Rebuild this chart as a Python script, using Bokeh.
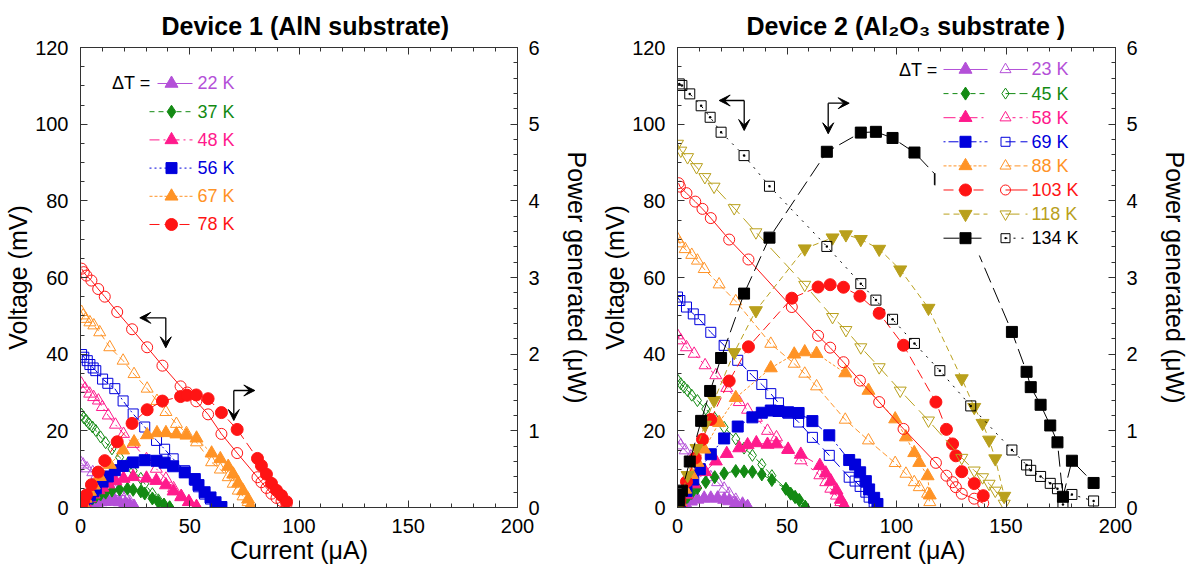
from bokeh.plotting import figure
from bokeh.models import Range1d, LinearAxis, SingleIntervalTicker, Arrow, VeeHead
from bokeh.layouts import row
from bokeh.embed import file_html
from bokeh.resources import INLINE
from bokeh.core.properties import value

FONT = "Liberation Sans"

# ---------------- Device 1 (AlN substrate) ----------------
temps1 = ["22 K", "37 K", "48 K", "56 K", "67 K", "78 K"]

I1_22 = [0.0, 1.2, 3.0, 5.6, 7.5, 9.2, 11.0, 12.7, 14.5, 16.0, 18.0, 20.5, 22.5, 24.5]
V1_22 = [11.8, 11.2, 10.2, 9.2, 8.5, 7.8, 7.0, 6.4, 5.6, 5.0, 4.0, 2.7, 1.5, 0.4]
P1_22 = [0.000, 0.013, 0.031, 0.052, 0.064, 0.072, 0.077, 0.081, 0.081, 0.080, 0.072, 0.055, 0.034, 0.010]

I1_37 = [0.5, 1.5, 2.7, 4.0, 5.5, 7.0, 9.2, 11.5, 14.4, 17.9, 21.5, 24.1, 27.6, 29.4, 32.9, 35.6, 38.2, 40.8]
V1_37 = [24.3, 23.4, 22.7, 21.8, 21.0, 20.1, 18.4, 16.9, 15.3, 13.1, 11.4, 9.6, 7.6, 6.2, 3.6, 2.0, 0.9, 0.1]
P1_37 = [0.012, 0.035, 0.061, 0.087, 0.116, 0.141, 0.169, 0.194, 0.220, 0.234, 0.245, 0.231, 0.210, 0.182, 0.118, 0.071, 0.034, 0.004]

I1_48 = [0.4, 2.1, 4.2, 6.0, 8.2, 10.0, 12.7, 16.0, 19.7, 24.1, 30.2, 34.7, 39.1, 42.6, 46.1, 49.6, 53.1]
V1_48 = [32.3, 31.0, 29.7, 28.8, 27.9, 26.2, 24.0, 21.6, 19.2, 16.6, 12.6, 10.1, 7.5, 5.0, 3.0, 1.5, 0.2]
P1_48 = [0.013, 0.065, 0.125, 0.173, 0.229, 0.262, 0.305, 0.346, 0.378, 0.400, 0.381, 0.350, 0.293, 0.213, 0.138, 0.074, 0.011]

I1_56 = [0.5, 1.5, 3.1, 4.3, 5.8, 7.0, 10.1, 12.5, 15.7, 19.5, 24.1, 29.4, 34.8, 38.5, 42.4, 47.7, 52.3, 54.0, 56.8, 59.5, 61.8, 64.5]
V1_56 = [39.9, 39.2, 38.3, 37.3, 36.4, 35.7, 33.5, 32.4, 31.0, 27.8, 24.4, 21.0, 17.5, 15.2, 12.7, 9.6, 7.1, 5.4, 3.5, 2.2, 1.1, 0.1]
P1_56 = [0.020, 0.059, 0.119, 0.160, 0.211, 0.250, 0.338, 0.405, 0.487, 0.542, 0.588, 0.617, 0.609, 0.585, 0.538, 0.458, 0.371, 0.292, 0.199, 0.131, 0.068, 0.006]

I1_67 = [0.5, 1.2, 2.4, 4.3, 6.1, 8.8, 13.4, 19.5, 24.5, 30.5, 35.0, 39.1, 43.9, 48.5, 53.1, 60.0, 64.0, 67.6, 69.9, 72.2, 74.4, 76.7, 77.8]
V1_67 = [51.0, 50.1, 49.2, 48.3, 47.5, 45.7, 41.8, 38.3, 34.8, 31.0, 27.8, 24.9, 21.8, 19.4, 17.0, 11.8, 9.9, 7.9, 6.2, 4.4, 2.9, 1.4, 0.3]
P1_67 = [0.026, 0.060, 0.118, 0.208, 0.290, 0.402, 0.560, 0.747, 0.853, 0.946, 0.973, 0.974, 0.957, 0.941, 0.903, 0.708, 0.634, 0.534, 0.433, 0.318, 0.216, 0.107, 0.023]

I1_78 = [0.5, 1.5, 2.7, 5.0, 8.1, 11.1, 16.8, 23.6, 30.5, 37.5, 45.8, 48.8, 53.0, 58.4, 64.5, 71.7, 81.0, 82.8, 85.1, 87.4, 89.7, 92.0, 94.3]
V1_78 = [62.3, 61.4, 60.5, 59.2, 57.0, 55.0, 51.0, 46.5, 41.8, 37.0, 31.6, 30.0, 27.7, 24.3, 19.2, 14.2, 7.9, 6.6, 5.1, 3.6, 2.5, 1.7, 0.8]
P1_78 = [0.031, 0.092, 0.163, 0.296, 0.462, 0.611, 0.857, 1.097, 1.275, 1.388, 1.447, 1.464, 1.468, 1.419, 1.238, 1.018, 0.640, 0.546, 0.434, 0.315, 0.224, 0.156, 0.075]

# ---------------- Device 2 (Al2O3 substrate) ----------------
temps2 = ["23 K", "45 K", "58 K", "69 K", "88 K", "103 K", "118 K", "134 K"]

I2_23 = [0.0, 1.5, 3.5, 6.1, 9.1, 12.2, 15.2, 18.3, 21.3, 23.6, 26.6, 29.7, 32.0]
V2_23 = [17.5, 16.2, 14.9, 13.3, 11.6, 9.8, 7.9, 6.6, 4.9, 3.6, 2.0, 1.0, 0.3]
P2_23 = [0.000, 0.024, 0.052, 0.081, 0.106, 0.120, 0.120, 0.121, 0.104, 0.085, 0.053, 0.030, 0.010]

I2_45 = [0.0, 1.5, 3.0, 4.6, 6.5, 9.1, 12.9, 17.0, 21.3, 26.6, 30.4, 34.2, 38.5, 43.1, 49.5, 51.7, 53.7, 55.6, 58.3]
V2_45 = [33.3, 32.3, 31.4, 30.5, 29.3, 27.9, 25.7, 23.3, 20.9, 17.9, 15.5, 13.6, 11.2, 8.3, 4.9, 3.5, 2.6, 1.8, 0.2]
P2_45 = [0.000, 0.048, 0.094, 0.140, 0.190, 0.254, 0.332, 0.396, 0.445, 0.476, 0.471, 0.465, 0.431, 0.358, 0.243, 0.181, 0.140, 0.100, 0.012]

I2_58 = [0.0, 1.5, 4.1, 7.6, 12.6, 17.5, 22.5, 28.2, 32.0, 36.0, 41.1, 45.2, 50.5, 56.3, 65.0, 67.7, 70.0, 72.6, 74.6, 76.1]
V2_58 = [44.9, 43.6, 41.8, 40.1, 37.1, 34.5, 31.2, 27.5, 25.5, 23.4, 20.0, 18.3, 15.0, 12.3, 8.4, 6.6, 4.9, 3.1, 1.4, 0.3]
P2_58 = [0.000, 0.065, 0.171, 0.305, 0.467, 0.604, 0.702, 0.776, 0.816, 0.842, 0.822, 0.827, 0.758, 0.692, 0.546, 0.447, 0.343, 0.225, 0.104, 0.023]

I2_69 = [0.0, 1.1, 4.1, 7.2, 10.2, 15.2, 21.3, 27.5, 34.2, 38.5, 42.6, 46.1, 50.5, 55.3, 61.6, 69.3, 78.4, 81.1, 83.4, 86.0, 87.5, 89.8, 91.3]
V2_69 = [54.9, 54.0, 52.3, 50.5, 49.0, 45.7, 42.3, 38.4, 34.4, 32.1, 29.7, 27.3, 24.6, 22.3, 18.3, 13.6, 7.9, 6.9, 5.5, 4.0, 2.7, 1.4, 0.5]
P2_69 = [0.000, 0.059, 0.214, 0.364, 0.500, 0.695, 0.901, 1.056, 1.176, 1.236, 1.265, 1.259, 1.242, 1.233, 1.127, 0.942, 0.619, 0.560, 0.459, 0.344, 0.236, 0.126, 0.046]

I2_88 = [0.0, 1.1, 3.5, 6.5, 9.1, 12.2, 19.0, 26.6, 42.6, 53.3, 58.1, 63.5, 76.6, 87.2, 99.4, 104.3, 108.1, 110.4, 114.2, 115.2]
V2_88 = [70.1, 68.9, 67.4, 65.9, 64.4, 62.2, 58.2, 53.8, 42.7, 37.5, 34.9, 31.6, 22.9, 17.5, 11.6, 8.8, 6.6, 5.3, 3.6, 1.4]
P2_88 = [0.000, 0.076, 0.236, 0.428, 0.586, 0.759, 1.106, 1.431, 1.819, 1.999, 2.028, 2.007, 1.754, 1.526, 1.153, 0.918, 0.713, 0.585, 0.411, 0.161]

I2_103 = [0.5, 1.1, 4.1, 8.1, 11.4, 15.2, 23.6, 32.4, 52.2, 64.2, 69.7, 75.8, 83.3, 92.1, 103.2, 118.0, 122.8, 125.6, 127.1, 129.8, 135.5, 139.6]
V2_103 = [84.6, 83.7, 82.0, 79.8, 77.9, 75.5, 69.9, 64.7, 52.3, 44.8, 41.7, 37.9, 33.1, 27.5, 20.5, 11.65, 8.3, 6.6, 5.3, 3.6, 2.3, 1.1]
P2_103 = [0.042, 0.092, 0.336, 0.646, 0.888, 1.148, 1.650, 2.096, 2.730, 2.876, 2.906, 2.873, 2.757, 2.533, 2.116, 1.375, 1.019, 0.829, 0.674, 0.467, 0.312, 0.154]

I2_118 = [0.0, 1.5, 4.6, 8.7, 12.5, 16.7, 25.9, 35.8, 58.1, 70.8, 76.9, 83.7, 92.1, 101.7, 114.6, 129.8, 135.5, 139.3, 142.3, 145.1, 149.2]
V2_118 = [94.9, 93.1, 91.4, 88.8, 86.2, 83.7, 78.1, 71.8, 58.1, 49.7, 46.3, 41.8, 36.6, 30.5, 22.7, 12.96, 9.65, 7.9, 6.2, 4.4, 1.0]
P2_118 = [0.000, 0.140, 0.420, 0.773, 1.078, 1.398, 2.023, 2.570, 3.376, 3.519, 3.560, 3.499, 3.371, 3.102, 2.601, 1.682, 1.308, 1.100, 0.882, 0.638, 0.149]

I2_134 = [0.8, 2.0, 5.6, 10.8, 14.9, 19.9, 30.4, 42.0, 68.2, 83.7, 90.6, 98.2, 108.2, 119.8, 133.9, 152.7, 159.4, 161.3, 165.8, 170.2, 173.5, 176.0, 180.1, 190.0]
V2_134 = [110.5, 110.1, 107.9, 104.8, 101.8, 97.9, 91.8, 83.8, 68.1, 58.4, 54.1, 49.1, 42.8, 35.7, 26.5, 15.0, 11.1, 9.7, 8.1, 6.3, 4.9, 0.8, 3.4, 1.7]
P2_134 = [0.09, 0.22, 0.60, 1.13, 1.52, 1.95, 2.79, 3.52, 4.64, 4.89, 4.90, 4.82, 4.63, 4.28, 3.55, 2.29, 1.77, 1.57, 1.34, 1.07, 0.85, 0.14, 0.61, 0.32]

x_label = "Current (\u03bcA)"
yl_label = "Voltage (mV)"
yr_label = "Power generated (\u03bcW)"

# ---------------- styles ----------------
VIOLET, GREEN, PINK, BLUE = "#B450D8", "#138A13", "#FF1A8C", "#0000DC"
ORANGE, RED, GOLD, BLACK = "#FF9326", "#FF1414", "#B9A01C", "#000000"

sty1 = [
    dict(c=VIOLET, m="triangle", dp="solid", dv="solid"),
    dict(c=GREEN, m="diamond", dp="5 4", dv="5 4"),
    dict(c=PINK, m="triangle", dp="10 4 2 4", dv="10 4 2 4"),
    dict(c=BLUE, m="square", dp="2 3", dv="8 3 2 3"),
    dict(c=ORANGE, m="triangle", dp="3 2", dv="6 4"),
    dict(c=RED, m="circle", dp="10 5", dv="solid"),
]
sty2 = [
    dict(c=VIOLET, m="triangle", mo="triangle", dp="solid", dv="solid"),
    dict(c=GREEN, m="diamond", mo="diamond", dp="5 4", dv="10 4"),
    dict(c=PINK, m="triangle", mo="triangle", dp="12 4 2 4", dv="3 4"),
    dict(c=BLUE, m="square", mo="square", dp="2 3 10 3", dv="10 5"),
    dict(c=ORANGE, m="triangle", mo="triangle", dp="3 2", dv="6 3"),
    dict(c=RED, m="circle", mo="circle", dp="10 5", dv="solid"),
    dict(c=GOLD, m="inverted_triangle", mo="inverted_triangle", dp="6 4", dv="14 6"),
    dict(c=BLACK, m="square", mo="square_dot", dp="16 6", dv="2 6"),
]
MSIZE = {"triangle": 12, "inverted_triangle": 12, "diamond": 12, "square": 10,
         "square_dot": 10, "circle": 11}

AXC = "#333333"


def style_axis(ax, interval, minor):
    ax.ticker = SingleIntervalTicker(interval=interval, num_minor_ticks=minor)
    ax.major_tick_in = 7
    ax.major_tick_out = 0
    ax.minor_tick_in = 4
    ax.minor_tick_out = 0
    ax.axis_line_color = AXC
    ax.major_tick_line_color = AXC
    ax.minor_tick_line_color = AXC
    ax.major_label_text_font = FONT
    ax.major_label_text_font_size = "20px"
    ax.major_label_text_color = "black"
    ax.axis_label_text_font = FONT
    ax.axis_label_text_font_size = "25px"
    ax.axis_label_text_font_style = "normal"
    ax.axis_label_text_color = "black"


def make_fig(title, width, bl, br, title_offset):
    p = figure(width=width, height=570, x_range=Range1d(0, 200), y_range=Range1d(0, 120),
               output_backend="svg", toolbar_location=None,
               min_border_left=bl, min_border_right=br, min_border_top=47, min_border_bottom=63)
    p.extra_y_ranges = {"pw": Range1d(0, 6)}
    p.grid.visible = False
    p.outline_line_color = None
    p.background_fill_color = "white"
    p.border_fill_color = "white"
    p.title.text = title
    p.title.text_font = FONT
    p.title.text_font_size = "25px"
    p.title.text_font_style = "bold"
    p.title.text_color = "black"
    p.title.align = "left"
    p.title.offset = title_offset
    p.title.standoff = 16

    style_axis(p.xaxis[0], 50, 5)
    p.xaxis[0].axis_label = x_label
    p.xaxis[0].major_label_standoff = 11
    p.xaxis[0].axis_label_standoff = 0

    style_axis(p.yaxis[0], 20, 4)
    p.yaxis[0].axis_label = yl_label
    p.yaxis[0].major_label_standoff = 12
    p.yaxis[0].axis_label_standoff = 0

    ra = LinearAxis(y_range_name="pw")
    style_axis(ra, 1, 5)
    ra.axis_label = yr_label
    ra.major_label_standoff = 11
    ra.axis_label_standoff = 20
    p.add_layout(ra, "right")

    ta = LinearAxis()
    style_axis(ta, 50, 5)
    ta.major_label_text_color = None
    ta.major_label_text_font_size = "0px"
    ta.major_label_standoff = 0
    p.add_layout(ta, "above")
    return p


def draw_series(p, I, V, P, c, m, mo, dp, dv):
    p.line(I, V, line_color=c, line_width=1, line_dash=dv)
    p.scatter(I, V, marker=mo, size=MSIZE[mo], line_color=c, fill_color=None, line_width=1)
    p.line(I, P, line_color=c, line_width=1, line_dash=dp, y_range_name="pw")
    p.scatter(I, P, marker=m, size=MSIZE[m] + 1, line_color=c, fill_color=c, y_range_name="pw")


def arrow(p, xs, ys, xe, ye):
    p.add_layout(Arrow(end=VeeHead(size=11, fill_color="black", line_color="black"),
                       x_start=xs, y_start=ys, x_end=xe, y_end=ye,
                       line_color="black", line_width=1.3))


# ---------------- figure 1 ----------------
p1 = make_fig("Device 1 (AlN substrate)", 598, 80, 81, 81)
data1 = [(I1_22, V1_22, P1_22), (I1_37, V1_37, P1_37), (I1_48, V1_48, P1_48),
         (I1_56, V1_56, P1_56), (I1_67, V1_67, P1_67), (I1_78, V1_78, P1_78)]
for (I, V, P), s in zip(data1, sty1):
    draw_series(p1, I, V, P, s["c"], s["m"], s["m"], s["dp"], s["dv"])


def px1(x, y):
    return ((x - 80) / 2.185, (507 - y) / 3.8333)


tx, ty = px1(150, 83)
p1.text([tx], [ty], text=["\u0394T ="], text_font=value(FONT), text_font_size="18px",
        text_align="right", text_baseline="middle", text_color="black")
for k, (lab, s) in enumerate(zip(temps1, sty1)):
    yy = 83 + 28.2 * k
    xa, ya = px1(157 if k == 0 else 149, yy)
    xb, _ = px1(192, yy)
    xm, _ = px1(171, yy)
    xt, _ = px1(197, yy)
    p1.line([xa, xb], [ya, ya], line_color=s["c"], line_dash=s["dp"], line_width=1)
    p1.scatter([xm], [ya], marker=s["m"], size=MSIZE[s["m"]] + 1, line_color=s["c"], fill_color=s["c"])
    p1.text([xt], [ya], text=[lab], text_font=value(FONT), text_font_size="18px",
            text_align="left", text_baseline="middle", text_color=s["c"])

cx, cy = px1(165.3, 317.3)
ex, _ = px1(139.3, 317.3)
_, ey = px1(165.3, 347.3)
arrow(p1, cx, cy, ex, cy)
arrow(p1, cx, cy, cx, ey)
cx, cy = px1(233.3, 390)
ex, _ = px1(254.3, 390)
_, ey = px1(233.3, 420)
arrow(p1, cx, cy, ex, cy)
arrow(p1, cx, cy, cx, ey)

# ---------------- figure 2 ----------------
p2 = make_fig("Device 2 (Al\u2082O\u2083 substrate )", 594, 79, 77, 69)
data2 = [(I2_23, V2_23, P2_23), (I2_45, V2_45, P2_45), (I2_58, V2_58, P2_58),
         (I2_69, V2_69, P2_69), (I2_88, V2_88, P2_88), (I2_103, V2_103, P2_103),
         (I2_118, V2_118, P2_118), (I2_134, V2_134, P2_134)]
for (I, V, P), s in zip(data2, sty2):
    draw_series(p2, I, V, P, s["c"], s["m"], s["mo"], s["dp"], s["dv"])


def px2(x, y):
    return ((x - 677) / 2.19, (507 - y) / 3.8333)


bl_, bt_ = px2(935, 50)
br_, bb_ = px2(1085, 255)
p2.quad(left=[bl_], right=[br_], top=[bt_], bottom=[bb_], fill_color="white", line_color=None)

tx, ty = px2(937, 70)
p2.text([tx], [ty], text=["\u0394T ="], text_font=value(FONT), text_font_size="18px",
        text_align="right", text_baseline="middle", text_color="black")
for k, (lab, s) in enumerate(zip(temps2, sty2)):
    yy = 69 + 24.1 * k
    xa, ya = px2(943, yy)
    xb, _ = px2(987, yy)
    xm, _ = px2(965, yy)
    xo, _ = px2(1005, yy)
    xoe, _ = px2(1027, yy)
    xt, _ = px2(1031, yy)
    p2.line([xa, xb], [ya, ya], line_color=s["c"], line_dash=s["dp"], line_width=1)
    p2.scatter([xm], [ya], marker=s["m"], size=MSIZE[s["m"]] + 1, line_color=s["c"], fill_color=s["c"])
    p2.line([xo, xoe], [ya, ya], line_color=s["c"], line_dash=s["dv"], line_width=1)
    p2.scatter([xo], [ya], marker=s["mo"], size=MSIZE[s["mo"]] - 1, line_color=s["c"], fill_color=None)
    p2.text([xt], [ya], text=[lab], text_font=value(FONT), text_font_size="18px",
            text_align="left", text_baseline="middle", text_color=s["c"])

cx, cy = px2(743.7, 100)
ex, _ = px2(718.7, 100)
_, ey = px2(743.7, 130)
arrow(p2, cx, cy, ex, cy)
arrow(p2, cx, cy, cx, ey)
cx, cy = px2(827.7, 102.7)
ex, _ = px2(848.7, 102.7)
_, ey = px2(827.7, 133.3)
arrow(p2, cx, cy, ex, cy)
arrow(p2, cx, cy, cx, ey)

layout = row(p1, p2)
open("out.html", "w").write(file_html(layout, INLINE))
